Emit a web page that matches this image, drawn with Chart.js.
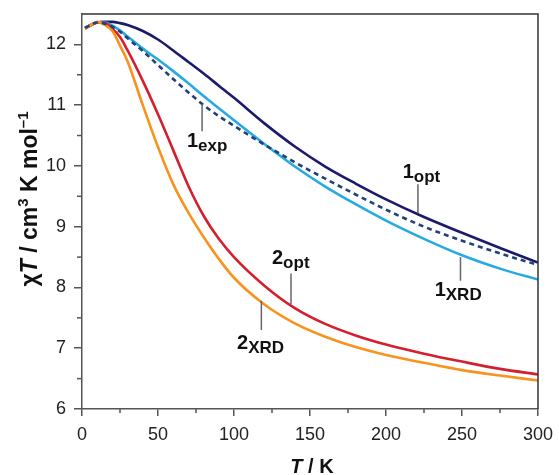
<!DOCTYPE html>
<html>
<head>
<meta charset="utf-8">
<script src="https://cdn.jsdelivr.net/npm/chart.js@4.4.1/dist/chart.umd.min.js"></script>
<style>
  html, body { margin: 0; padding: 0; background: #fff; }
  #wrap { width: 559px; height: 475px; }
</style>
</head>
<body>
<div id="wrap"><canvas id="grafica"></canvas></div>
<script>
// T / K
var temperaturas = [2, 5, 10, 15, 20, 25, 30, 40, 50, 60, 70, 80, 90, 100, 120, 140, 160, 180, 200, 225, 250, 275, 300];
// chi T / cm3 K mol-1
var exp1 = [12.27, 12.31, 12.36, 12.34, 12.29, 12.21, 12.10, 11.89, 11.66, 11.43, 11.21, 11.00, 10.82, 10.66, 10.35, 10.06, 9.79, 9.53, 9.28, 9.00, 8.77, 8.56, 8.37];
var opt1 = [12.27, 12.31, 12.36, 12.37, 12.37, 12.35, 12.32, 12.22, 12.08, 11.90, 11.71, 11.52, 11.32, 11.12, 10.70, 10.32, 9.99, 9.71, 9.45, 9.16, 8.90, 8.65, 8.41];
var xrd1 = [12.27, 12.31, 12.36, 12.36, 12.31, 12.23, 12.13, 11.93, 11.75, 11.56, 11.36, 11.15, 10.95, 10.75, 10.36, 9.99, 9.66, 9.37, 9.10, 8.80, 8.53, 8.31, 8.13];
var opt2 = [12.26, 12.30, 12.36, 12.35, 12.26, 12.12, 11.90, 11.40, 10.85, 10.26, 9.67, 9.18, 8.80, 8.50, 8.03, 7.66, 7.40, 7.21, 7.06, 6.91, 6.78, 6.66, 6.57];
var xrd2 = [12.26, 12.30, 12.37, 12.32, 12.22, 11.98, 11.72, 11.00, 10.31, 9.70, 9.23, 8.83, 8.47, 8.16, 7.72, 7.41, 7.19, 7.02, 6.89, 6.76, 6.64, 6.55, 6.47];

var ticksX = [0, 50, 100, 150, 200, 250, 300];
var ticksY = [6, 7, 8, 9, 10, 11, 12];
var menoresX = [25, 75, 125, 175, 225, 275];
var menoresY = [6.5, 7.5, 8.5, 9.5, 10.5, 11.5];

// etiquetas de las curvas: numero, subindice, posicion del texto y de la linea guia (en unidades de datos)
var etiquetas = [
  { num: '1', sub: 'exp', tx: 69, ty: 10.41, lx: 79, ly1: 11.02, ly2: 10.57 },
  { num: '1', sub: 'opt', tx: 211, ty: 9.89, lx: 221, ly1: 9.70, ly2: 9.22 },
  { num: '1', sub: 'XRD', tx: 232, ty: 7.95, lx: 249, ly1: 8.50, ly2: 8.11 },
  { num: '2', sub: 'opt', tx: 125, ty: 8.48, lx: 137.5, ly1: 8.23, ly2: 7.72 },
  { num: '2', sub: 'XRD', tx: 102, ty: 7.08, lx: 118, ly1: 7.78, ly2: 7.30 }
];

function puntos(valores) {
  return temperaturas.map(function (t, i) { return { x: t, y: valores[i] }; });
}

function serie(nombre, valores, color, dash) {
  return {
    label: nombre,
    data: puntos(valores),
    borderColor: color,
    borderWidth: 2.6,
    borderDash: dash || [],
    pointRadius: 0,
    fill: false,
    cubicInterpolationMode: 'monotone'
  };
}

function textoRico(ctx, partes, x, y) {
  ctx.textAlign = 'left';
  ctx.textBaseline = 'middle';
  var cx = x;
  partes.forEach(function (p) {
    ctx.font = p.font;
    ctx.fillText(p.t, cx, y + (p.dy || 0));
    cx += ctx.measureText(p.t).width;
  });
  return cx - x;
}

function anchoRico(ctx, partes) {
  var w = 0;
  partes.forEach(function (p) { ctx.font = p.font; w += ctx.measureText(p.t).width; });
  return w;
}

var adornos = {
  id: 'adornos',
  afterDraw: function (chart) {
    var ctx = chart.ctx;
    var a = chart.chartArea;
    var sx = chart.scales.x, sy = chart.scales.y;
    ctx.save();
    // marco superior y derecho
    ctx.strokeStyle = '#333';
    ctx.lineWidth = 1.5;
    ctx.beginPath();
    ctx.moveTo(a.left, a.top);
    ctx.lineTo(a.right, a.top);
    ctx.lineTo(a.right, a.bottom);
    ctx.stroke();
    // marcas menores
    ctx.strokeStyle = '#555';
    ctx.lineWidth = 1.5;
    menoresX.forEach(function (v) {
      var px = sx.getPixelForValue(v);
      ctx.beginPath(); ctx.moveTo(px, a.bottom); ctx.lineTo(px, a.bottom + 4); ctx.stroke();
    });
    menoresY.forEach(function (v) {
      var py = sy.getPixelForValue(v);
      ctx.beginPath(); ctx.moveTo(a.left, py); ctx.lineTo(a.left - 5, py); ctx.stroke();
    });

    // lineas guia y etiquetas
    ctx.fillStyle = '#111';
    etiquetas.forEach(function (e) {
      var lx = sx.getPixelForValue(e.lx);
      ctx.strokeStyle = '#666';
      ctx.lineWidth = 1.5;
      ctx.beginPath();
      ctx.moveTo(lx, sy.getPixelForValue(e.ly1));
      ctx.lineTo(lx, sy.getPixelForValue(e.ly2));
      ctx.stroke();
      textoRico(ctx, [
        { t: e.num, font: 'bold 20px "Liberation Sans", Arial, sans-serif' },
        { t: e.sub, font: 'bold 17px "Liberation Sans", Arial, sans-serif', dy: 5 }
      ], sx.getPixelForValue(e.tx), sy.getPixelForValue(e.ty));
    });

    // titulo eje x
    var tx = [
      { t: 'T', font: 'italic bold 20px "Liberation Sans", Arial, sans-serif' },
      { t: ' / K', font: 'bold 20px "Liberation Sans", Arial, sans-serif' }
    ];
    var wx = anchoRico(ctx, tx);
    ctx.fillStyle = '#111';
    textoRico(ctx, tx, (a.left + a.right) / 2 - wx / 2 + 2, 467);

    // titulo eje y
    var ty = [
      { t: '\u03C7', font: 'bold 23px "Liberation Sans", Arial, sans-serif' },
      { t: 'T', font: 'italic bold 23px "Liberation Sans", Arial, sans-serif' },
      { t: ' / cm', font: 'bold 23px "Liberation Sans", Arial, sans-serif' },
      { t: '3', font: 'bold 15px "Liberation Sans", Arial, sans-serif', dy: -7 },
      { t: ' K mol', font: 'bold 23px "Liberation Sans", Arial, sans-serif' },
      { t: '\u20131', font: 'bold 15px "Liberation Sans", Arial, sans-serif', dy: -7 }
    ];
    var wy = anchoRico(ctx, ty);
    ctx.translate(31, 199);
    ctx.rotate(-Math.PI / 2);
    textoRico(ctx, ty, -wy / 2, 0);
    ctx.restore();
  }
};

var ctx = document.getElementById('grafica');
var grafica = new Chart(ctx, {
  type: 'line',
  plugins: [adornos],
  data: {
    datasets: [
      serie('1exp', exp1, '#22407a', [5, 4]),
      serie('2XRD', xrd2, '#f7931e'),
      serie('2opt', opt2, '#d41f2f'),
      serie('1XRD', xrd1, '#27aae1'),
      serie('1opt', opt1, '#1b1a6b')
    ]
  },
  options: {
    responsive: true,
    maintainAspectRatio: false,
    animation: false,
    layout: { padding: { top: 14, right: 21, left: 0, bottom: 0 } },
    plugins: {
      legend: { display: false },
      tooltip: { enabled: false }
    },
    scales: {
      x: {
        type: 'linear',
        min: 0,
        max: 300,
        afterBuildTicks: function (s) { s.ticks = ticksX.map(function (v) { return { value: v }; }); },
        afterFit: function (s) { s.height = 66; s.paddingLeft = 0; s.paddingRight = 0; },
        grid: { drawOnChartArea: false, tickLength: 7, color: '#555', lineWidth: 1.5 },
        border: { display: true, color: '#555', width: 1.5 },
        ticks: {
          color: '#222',
          padding: 8,
          maxRotation: 0,
          font: { family: '"Liberation Sans", Arial, sans-serif', size: 18 }
        }
      },
      y: {
        min: 6,
        max: 12.5,
        afterBuildTicks: function (s) { s.ticks = ticksY.map(function (v) { return { value: v }; }); },
        afterFit: function (s) { s.width = 82; s.paddingTop = 0; s.paddingBottom = 0; },
        grid: { drawOnChartArea: false, tickLength: 8, color: '#555', lineWidth: 1.5 },
        border: { display: true, color: '#555', width: 1.5 },
        ticks: {
          color: '#222',
          padding: 8,
          font: { family: '"Liberation Sans", Arial, sans-serif', size: 18 }
        }
      }
    }
  }
});
</script>
</body>
</html>
